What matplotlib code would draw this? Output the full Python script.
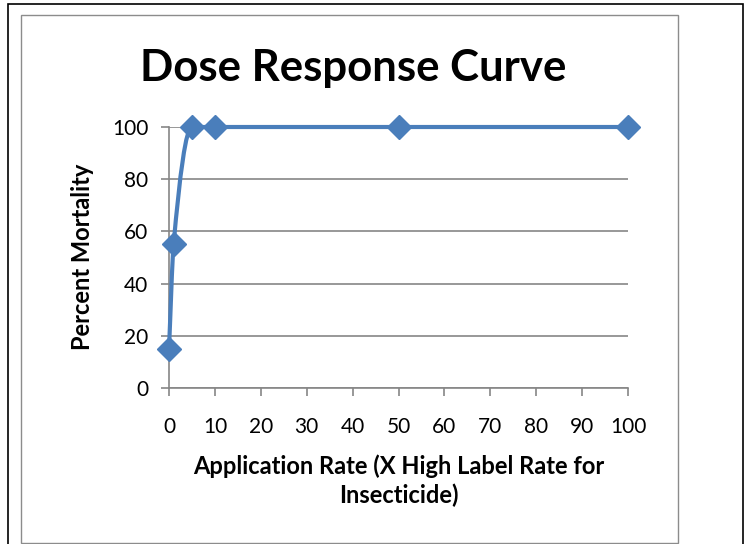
import numpy as np
import matplotlib
matplotlib.use("Agg")
import matplotlib.pyplot as plt
from matplotlib.path import Path
from matplotlib.patches import PathPatch, Rectangle

# Data
rate = [0, 1, 5, 10, 50, 100]
mortality = [15, 55, 100, 100, 100, 100]
x_ticks = [0, 10, 20, 30, 40, 50, 60, 70, 80, 90, 100]
y_ticks = [0, 20, 40, 60, 80, 100]
title = "Dose Response Curve"
xlabel = "Application Rate (X High Label Rate for\nInsecticide)"
ylabel = "Percent Mortality"

FONT = ["Lato", "DejaVu Sans"]
plt.rcParams["font.family"] = FONT
BLUE = "#4A7EBB"
GRID = "#868686"

W, H = 749, 544
fig = plt.figure(figsize=(W / 100, H / 100), dpi=100)

# outer black frame and inner gray chart frame
fig.patches.append(Rectangle((8 / W, -0.05), (743 - 8) / W, 1.05 - 4 / H,
                             transform=fig.transFigure, fill=False,
                             edgecolor="black", linewidth=1.2))
fig.patches.append(Rectangle((21 / W, 1 - 543 / H), (678 - 21) / W, (543 - 15) / H,
                             transform=fig.transFigure, fill=False,
                             edgecolor="#8c8c8c", linewidth=1.0))

ax = fig.add_axes([169 / W, 1 - 388 / H, (628 - 169) / W, (388 - 127) / H])
ax.set_xlim(0, 100)
ax.set_ylim(0, 100)
ax.set_xticks(x_ticks)
ax.set_yticks(y_ticks)
ax.tick_params(axis="both", direction="out", length=6, width=1.2, color=GRID,
               labelsize=15)
ax.tick_params(axis="x", pad=15)
ax.tick_params(axis="y", pad=9)
ax.yaxis.grid(True, color=GRID, linewidth=1.2)
ax.set_axisbelow(True)
for s in ["top", "right"]:
    ax.spines[s].set_visible(False)
for s in ["left", "bottom"]:
    ax.spines[s].set_color(GRID)
    ax.spines[s].set_linewidth(1.2)

# smooth monotone curve (Hermite -> cubic Bezier) through the data
x = np.array(rate, float)
y = np.array(mortality, float)
h = np.diff(x)
d = np.diff(y) / h
m = np.zeros_like(x)
m[0], m[-1] = d[0], d[-1]
for i in range(1, len(x) - 1):
    if d[i - 1] * d[i] <= 0:
        m[i] = 0
    else:
        w1 = 2 * h[i] + h[i - 1]
        w2 = h[i] + 2 * h[i - 1]
        m[i] = (w1 + w2) / (w1 / d[i - 1] + w2 / d[i])
verts = [(x[0], y[0])]
codes = [Path.MOVETO]
for i in range(len(x) - 1):
    verts += [(x[i] + h[i] / 3, y[i] + m[i] * h[i] / 3),
              (x[i + 1] - h[i] / 3, y[i + 1] - m[i + 1] * h[i] / 3),
              (x[i + 1], y[i + 1])]
    codes += [Path.CURVE4] * 3
ax.add_patch(PathPatch(Path(verts, codes), fill=False, edgecolor=BLUE,
                       linewidth=3, capstyle="round", joinstyle="round",
                       clip_on=False, zorder=3))
ax.plot(rate, mortality, linestyle="none", marker="D", markersize=12,
        color=BLUE, clip_on=False, zorder=4)

fig.text(398.5 / W, 1 - 481 / H, xlabel, fontsize=17, fontweight="bold",
         ha="center", va="center", linespacing=1.3, multialignment="center")
fig.text(83 / W, 1 - 257 / H, ylabel, fontsize=17, fontweight="bold",
         ha="center", va="center", rotation=90)
fig.text(353.5 / W, 1 - 68 / H, title, fontsize=31.5, fontweight="bold",
         ha="center", va="center")

fig.savefig("out.png", dpi=100)
